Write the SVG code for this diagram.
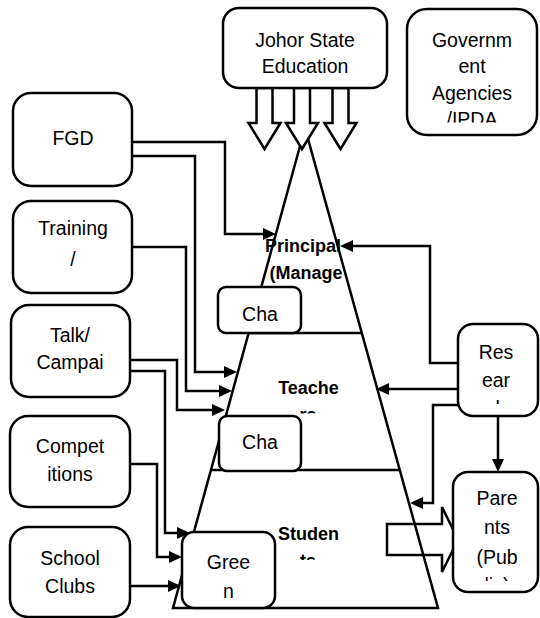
<svg xmlns="http://www.w3.org/2000/svg" width="540" height="618" viewBox="0 0 540 618">
<style>
.box{fill:#fff;stroke:#000;stroke-width:2.5}
.ln{fill:none;stroke:#000;stroke-width:2.5}
.blk{fill:#fff;stroke:#000;stroke-width:2.5;stroke-linejoin:miter}
.t{font-family:"Liberation Sans",Arial,sans-serif;font-size:19.5px;text-anchor:middle;fill:#000}
.b{font-weight:bold;font-size:18px}
.c{fill:none;stroke:#000;stroke-width:2.5;marker-end:url(#ah)}
</style>
<defs>
<marker id="ah" markerWidth="13" markerHeight="12" refX="9" refY="6" orient="auto" markerUnits="userSpaceOnUse"><path d="M0,0 L13,6 L0,12 Z" fill="#000"/></marker>
<clipPath id="cGov"><rect x="400" y="0" width="140" height="122.5"/></clipPath>
<clipPath id="cTea"><rect x="250" y="400" width="120" height="13.5"/></clipPath>
<clipPath id="cStu"><rect x="250" y="545" width="120" height="15"/></clipPath>
<clipPath id="cRes"><rect x="460" y="390" width="78" height="14"/></clipPath>
<clipPath id="cPar"><rect x="455" y="570" width="83" height="11"/></clipPath>
</defs>

<g id="pyramid">
<polygon class="ln" points="305,128 173,608 438,608"/>
<line class="ln" x1="248" y1="333" x2="362" y2="333"/>
<line class="ln" x1="211" y1="470" x2="400" y2="470"/>
<text class="t b" x="303" y="252">Principal</text>
<text class="t b" x="306" y="279">(Manage</text>
<text class="t b" x="308.5" y="394">Teache</text>
<text class="t b" x="308" y="421" clip-path="url(#cTea)">rs</text>
<text class="t b" x="308.5" y="540">Studen</text>
<text class="t b" x="308" y="567" clip-path="url(#cStu)">ts</text>
</g>

<g id="flow-arrows">
<polygon class="ln" points="387,524 442,524 442,507 458,539.5 442,572 442,555 387,555"/>
<polygon class="blk" points="256.5,88 256.5,123 248.5,123 264.5,149 280.5,123 272.5,123 272.5,88"/>
<polygon class="blk" points="294,88 294,123 286,123 302,149 318,123 310,123 310,88"/>
<polygon class="blk" points="332.5,88 332.5,123 324.5,123 340.5,149 356.5,123 348.5,123 348.5,88"/>
</g>

<g id="johor">
<rect class="box" x="223" y="8" width="164" height="80" rx="16"/>
<text class="t" x="305" y="47">Johor State</text>
<text class="t" x="305" y="73">Education</text>
</g>

<g id="government">
<rect class="box" x="407" y="9" width="130" height="126" rx="20"/>
<g clip-path="url(#cGov)">
<text class="t" x="472" y="47">Governm</text>
<text class="t" x="472" y="73">ent</text>
<text class="t" x="472" y="99.5">Agencies</text>
<text class="t" x="472" y="126">/IPDA</text>
</g>
</g>

<g id="fgd">
<rect class="box" x="13" y="93" width="119" height="93" rx="18"/>
<text class="t" x="73" y="145">FGD</text>
</g>

<g id="training">
<rect class="box" x="13" y="201" width="119" height="92" rx="18"/>
<text class="t" x="73" y="235">Training</text>
<text class="t" x="73" y="266">/</text>
</g>

<g id="talk">
<rect class="box" x="11" y="305" width="119" height="92" rx="18"/>
<text class="t" x="70" y="342">Talk/</text>
<text class="t" x="70" y="368.5">Campai</text>
</g>

<g id="competitions">
<rect class="box" x="10" y="416" width="120" height="91" rx="18"/>
<text class="t" x="70" y="453">Compet</text>
<text class="t" x="70" y="481">itions</text>
</g>

<g id="clubs">
<rect class="box" x="10" y="527" width="120" height="90" rx="18"/>
<text class="t" x="70" y="565">School</text>
<text class="t" x="70" y="593">Clubs</text>
</g>

<g id="cha1">
<rect class="box" x="218" y="287" width="83" height="46" rx="8"/>
<text class="t" x="260" y="321">Cha</text>
</g>

<g id="cha2">
<rect class="box" x="219" y="416" width="82" height="55" rx="8"/>
<text class="t" x="260" y="449">Cha</text>
</g>

<g id="green">
<rect class="box" x="182" y="532" width="93" height="76" rx="12"/>
<text class="t" x="228.5" y="569">Gree</text>
<text class="t" x="228.5" y="598">n</text>
</g>

<g id="research">
<rect class="box" x="458" y="324" width="80" height="92" rx="15"/>
<text class="t" x="496" y="358.5">Res</text>
<text class="t" x="496" y="387">ear</text>
<text class="t" x="496" y="415" clip-path="url(#cRes)">ch</text>
</g>

<g id="parents">
<rect class="box" x="453" y="472" width="85" height="120" rx="15"/>
<text class="t" x="497" y="505">Pare</text>
<text class="t" x="497" y="534">nts</text>
<text class="t" x="497" y="563.5">(Pub</text>
<text class="t" x="497" y="592" clip-path="url(#cPar)">lic)</text>
</g>

<g id="connectors">
<path class="c" d="M132,142 H225 V234 H272"/>
<path class="c" d="M132,156 H195 V372 H233"/>
<path class="c" d="M132,247 H186 V391 H228"/>
<path class="c" d="M130,360 H177 V410 H221"/>
<path class="c" d="M130,371 H165 V533 H186"/>
<path class="c" d="M130,464 H157 V557 H178"/>
<path class="c" d="M130,586 H177"/>
<path class="c" d="M458,363 H430 V246 H344"/>
<path class="c" d="M458,389 H380"/>
<path class="c" d="M458,405 H433 V503 H414"/>
<path class="c" d="M498,416 V468"/>
</g>
</svg>
